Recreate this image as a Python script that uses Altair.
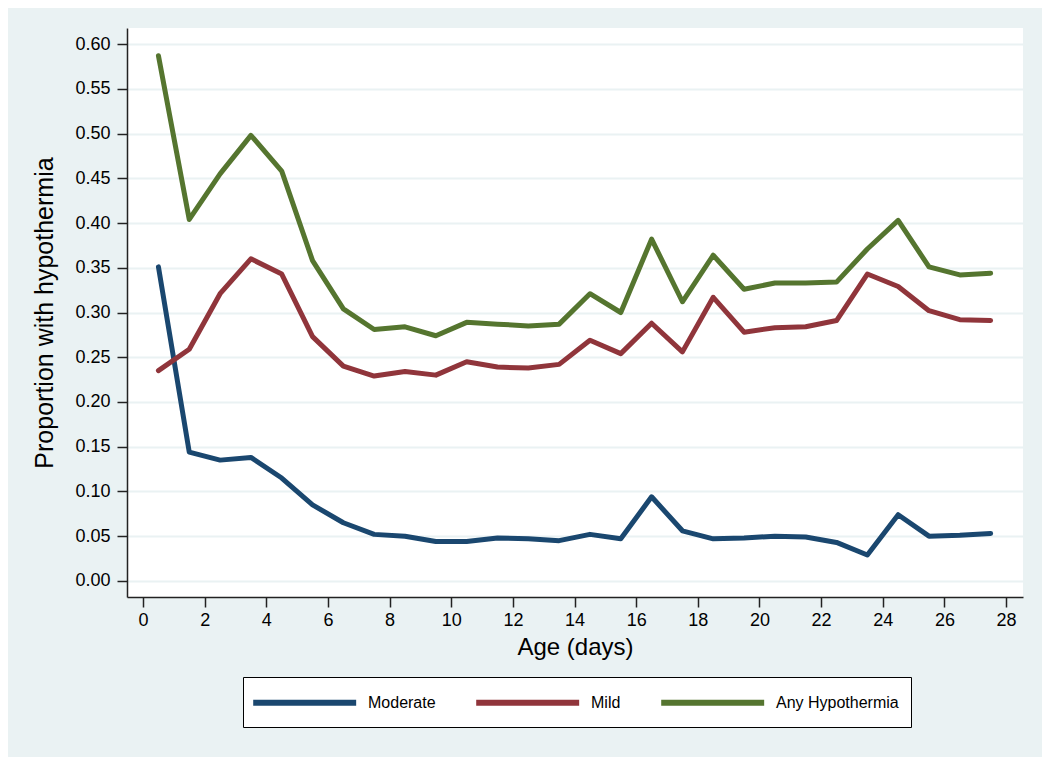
import altair as alt
import pandas as pd

age = [0.5 + i for i in range(28)]

moderate = [0.351, 0.144, 0.135, 0.138, 0.115, 0.085, 0.065, 0.052, 0.050, 0.044,
            0.044, 0.048, 0.047, 0.045, 0.052, 0.047, 0.094, 0.056, 0.047, 0.048,
            0.050, 0.049, 0.043, 0.029, 0.074, 0.050, 0.051, 0.053]
mild = [0.235, 0.259, 0.321, 0.360, 0.343, 0.273, 0.240, 0.229, 0.234, 0.230,
        0.245, 0.239, 0.238, 0.242, 0.269, 0.254, 0.288, 0.256, 0.317, 0.278,
        0.283, 0.284, 0.291, 0.343, 0.329, 0.302, 0.292, 0.291]
any_hypo = [0.587, 0.404, 0.455, 0.498, 0.458, 0.358, 0.304, 0.281, 0.284, 0.274,
            0.289, 0.287, 0.285, 0.287, 0.321, 0.300, 0.382, 0.312, 0.364, 0.326,
            0.333, 0.333, 0.334, 0.371, 0.403, 0.351, 0.342, 0.344]

series_names = ["Moderate", "Mild", "Any Hypothermia"]
series_colors = ["#1a476f", "#90353b", "#55752f"]
y_ticks = [round(0.05 * i, 2) for i in range(13)]
x_ticks = list(range(0, 29, 2))

rows = []
for name, vals in zip(series_names, [moderate, mild, any_hypo]):
    for a, v in zip(age, vals):
        rows.append({"age": a, "value": v, "series": name})
df = pd.DataFrame(rows)

FONT = "Liberation Sans"
BG = "#eaf2f3"

chart = alt.Chart(df).mark_line(strokeWidth=5, strokeCap="round", strokeJoin="round").encode(
    x=alt.X("age:Q",
            scale=alt.Scale(domain=[-0.52, 28.55], nice=False, zero=False),
            axis=alt.Axis(values=x_ticks, title="Age (days)", grid=False,
                          tickSize=10, tickColor="#222222", tickWidth=1.5,
                          domainColor="#222222", domainWidth=1.5,
                          labelFontSize=18, labelPadding=4, labelColor="#000000",
                          titleFontSize=24, titleFontWeight="normal", titlePadding=6,
                          titleColor="#000000")),
    y=alt.Y("value:Q",
            scale=alt.Scale(domain=[-0.018, 0.618], nice=False, zero=False),
            axis=alt.Axis(values=y_ticks, format=".2f", title="Proportion with hypothermia",
                          grid=True, gridColor=BG, gridWidth=2,
                          tickSize=10, tickColor="#222222", tickWidth=1.5,
                          domainColor="#222222", domainWidth=1.5,
                          labelFontSize=18, labelPadding=7, labelColor="#000000",
                          titleFontSize=25, titleFontWeight="normal", titlePadding=17,
                          titleColor="#000000")),
    color=alt.Color("series:N",
                    scale=alt.Scale(domain=series_names, range=series_colors),
                    sort=series_names,
                    legend=alt.Legend(title=None, orient="none", direction="horizontal",
                                      legendX=116, legendY=649,
                                      symbolType="M-1,0H9", symbolSize=424,
                                      symbolStrokeWidth=6, symbolOffset=-5,
                                      labelFontSize=16,
                                      labelOffset=91, columnPadding=28,
                                      padding=12, fillColor="white",
                                      strokeColor="#000000", labelColor="#000000",
                                      labelFont=FONT)),
    order=alt.Order("series_order:Q"),
).transform_calculate(
    series_order="indexof(['Moderate','Mild','Any Hypothermia'], datum.series)"
).properties(
    width=896, height=569,
    background=BG,
    autosize=alt.AutoSizeParams(type="none"),
    padding={"left": 119, "top": 20, "right": 19, "bottom": 160},
).configure_view(
    fill="white", stroke=None
).configure_axis(
    labelFont=FONT, titleFont=FONT
).configure_legend(
    labelFont=FONT
)

chart.save("out.html", embed_options={"renderer": "svg", "actions": False})
